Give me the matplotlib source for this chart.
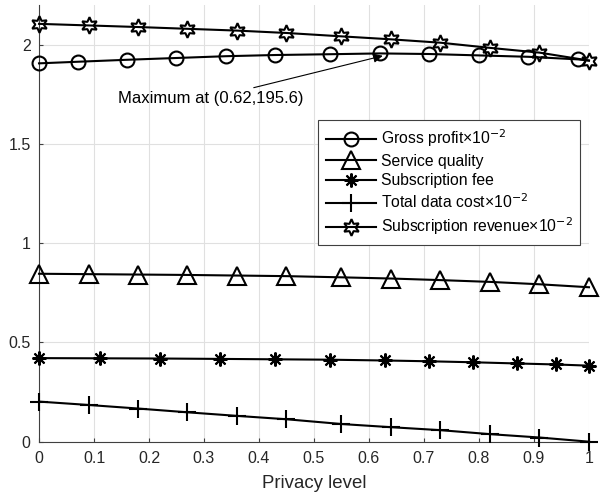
import numpy as np
import matplotlib
matplotlib.use('Agg')
from matplotlib import pyplot as plt

plt.rcParams['font.family'] = ['Liberation Sans', 'DejaVu Sans']
plt.rcParams['mathtext.fontset'] = 'custom'
plt.rcParams['mathtext.rm'] = 'Liberation Sans'

# privacy levels and curves (profit, cost, revenue scaled by 1e-2)
x_profit = [0, 0.07, 0.16, 0.25, 0.34, 0.43, 0.53, 0.62, 0.71, 0.80, 0.89, 0.98, 1.0]
gross_profit = [1.906, 1.914, 1.924, 1.933, 1.942, 1.948, 1.952, 1.956, 1.953, 1.946, 1.939, 1.926, 1.92]

x_quality = [0, 0.09, 0.18, 0.27, 0.36, 0.45, 0.55, 0.64, 0.73, 0.82, 0.91, 1.0]
service_quality = [0.846, 0.844, 0.842, 0.840, 0.837, 0.834, 0.828, 0.822, 0.814, 0.805, 0.793, 0.778]

x_fee = [0, 0.11, 0.22, 0.33, 0.43, 0.53, 0.63, 0.71, 0.79, 0.87, 0.94, 1.0]
subscription_fee = [0.421, 0.420, 0.419, 0.417, 0.415, 0.413, 0.409, 0.405, 0.400, 0.394, 0.389, 0.383]

x_cost = [0, 0.09, 0.18, 0.27, 0.36, 0.45, 0.55, 0.64, 0.73, 0.82, 0.91, 1.0]
data_cost = [0.202, 0.185, 0.167, 0.148, 0.130, 0.113, 0.089, 0.073, 0.058, 0.038, 0.021, 0.0]

x_revenue = [0, 0.09, 0.18, 0.27, 0.36, 0.45, 0.55, 0.64, 0.73, 0.82, 0.91, 1.0]
subscription_revenue = [2.105, 2.097, 2.089, 2.080, 2.071, 2.059, 2.042, 2.027, 2.010, 1.984, 1.960, 1.920]

x_ticks = [0, 0.1, 0.2, 0.3, 0.4, 0.5, 0.6, 0.7, 0.8, 0.9, 1]
x_ticklabels = ['0', '0.1', '0.2', '0.3', '0.4', '0.5', '0.6', '0.7', '0.8', '0.9', '1']
y_ticks = [0, 0.5, 1, 1.5, 2]
y_ticklabels = ['0', '0.5', '1', '1.5', '2']

max_x, max_y = 0.62, 195.6

fig = plt.figure(figsize=(6.01, 4.94), dpi=100)
ax = fig.add_axes([0.0649, 0.1059, 0.9151, 0.884])

style = dict(color='k', lw=1.5, mew=1.5, ms=10, fillstyle='none', clip_on=False, zorder=3)
sci = '\u00d710$^{\\mathsf{-2}}$'
ax.plot(x_profit, gross_profit, marker='o', markevery=list(range(12)),
        label='Gross profit' + sci, **style)
ax.plot(x_quality, service_quality, marker='^', label='Service quality',
        **dict(style, ms=13.5))
ax.plot(x_fee, subscription_fee, marker=(8, 2, 0), label='Subscription fee', **style)
ax.plot(x_cost, data_cost, marker='+', label='Total data cost' + sci,
        **dict(style, ms=13))
ax.plot(x_revenue, subscription_revenue, marker=(6, 1, 0),
        label='Subscription revenue' + sci, **dict(style, ms=12))

ax.annotate('Maximum at (%.2f,%.1f)' % (max_x, max_y),
            xy=(max_x + 0.005, max_y / 100 - 0.012), xytext=(0.481, 1.73),
            ha='right', va='center', fontsize=12,
            arrowprops=dict(arrowstyle='-|>', color='k', lw=0.8,
                            mutation_scale=14, shrinkA=1, shrinkB=0))

ax.set_xlim(0, 1)
ax.set_ylim(0, 2.2)
ax.set_xticks(x_ticks)
ax.set_xticklabels(x_ticklabels)
ax.set_yticks(y_ticks)
ax.set_yticklabels(y_ticklabels)
ax.tick_params(direction='in', length=3, width=0.8, color='0.25',
               labelsize=11.5, labelcolor='0.15')
ax.tick_params(axis='x', pad=7)
ax.tick_params(axis='y', pad=6)
ax.grid(True, color='0.88', lw=0.8)
ax.set_axisbelow(True)
for side in ['top', 'right']:
    ax.spines[side].set_visible(False)
for side in ['left', 'bottom']:
    ax.spines[side].set_color('0.25')
    ax.spines[side].set_linewidth(0.8)
ax.set_xlabel('Privacy level', fontsize=13.4, color='0.15', labelpad=6)

leg = ax.legend(loc='upper left', bbox_to_anchor=(0.507, 0.737), borderaxespad=0,
                fontsize=11.3, handlelength=3.2, handletextpad=0.3,
                labelspacing=0.28, fancybox=False, framealpha=1,
                edgecolor='0.25', borderpad=0.5)
leg.get_frame().set_linewidth(0.8)

fig.savefig('out.png', dpi=100)
